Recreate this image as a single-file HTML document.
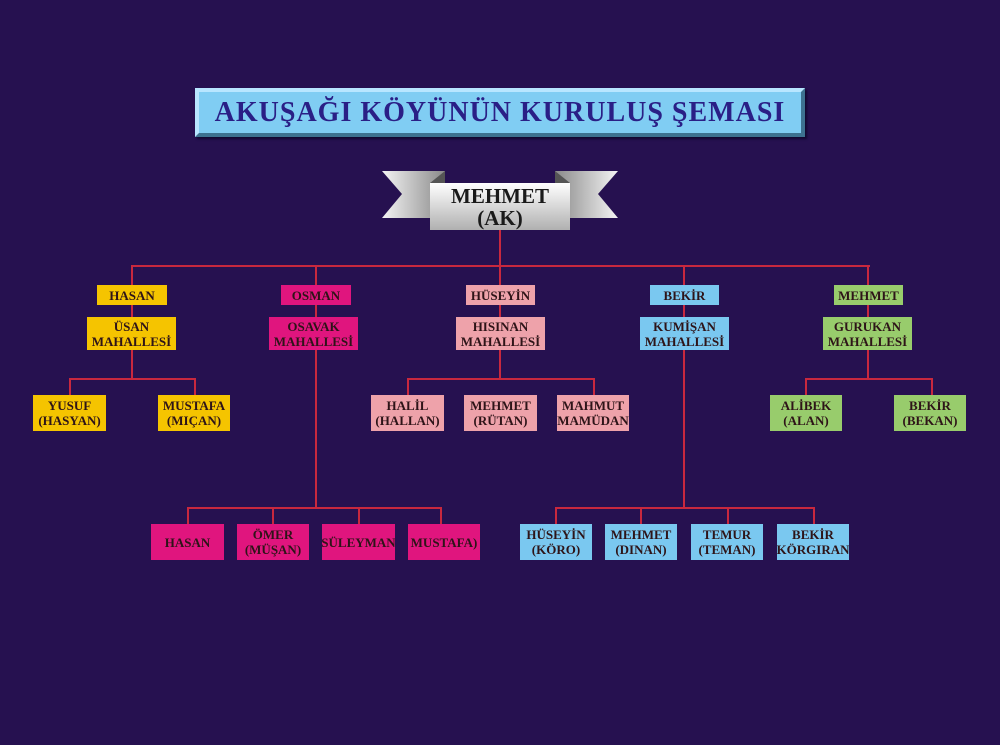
<!DOCTYPE html>
<html><head><meta charset="utf-8">
<style>
html,body{margin:0;padding:0}
body{width:1000px;height:745px;background:#261150;position:relative;overflow:hidden;font-family:"Liberation Serif","DejaVu Serif",serif}
.b{position:absolute;display:flex;align-items:center;justify-content:center;text-align:center;font-weight:bold;font-size:13px;line-height:15px;color:#2e1418;white-space:nowrap;overflow:hidden}
.y{background:#f5c400}.m{background:#e0157e}.p{background:#eea2aa}.c{background:#7ac8f0}.g{background:#98cc6c}
.h{position:absolute;height:2px;background:#c8283e}
.v{position:absolute;width:2px;background:#c8283e}
</style></head><body>
<div style="position:absolute;left:195px;top:88px;width:610px;height:49px;background:#80cdf3;box-sizing:border-box;border:4px solid;border-color:#b8e6ff #3d7290 #3d7290 #b8e6ff;box-shadow:2px 2px 2px #110830;display:flex;align-items:center;justify-content:center;font-weight:bold;font-size:28px;white-space:nowrap;color:#2a1f86;letter-spacing:1px">AKUŞAĞI KÖYÜNÜN KURULUŞ ŞEMASI</div>
<svg style="position:absolute;left:0;top:0" width="1000" height="745">
<defs><linearGradient id="gl" x1="0" x2="1"><stop offset="0" stop-color="#f4f4f4"/><stop offset="1" stop-color="#8a8a8a"/></linearGradient>
<linearGradient id="gr" x1="1" x2="0"><stop offset="0" stop-color="#f4f4f4"/><stop offset="1" stop-color="#8a8a8a"/></linearGradient>
<linearGradient id="gc" x1="0" y1="0" x2="0" y2="1"><stop offset="0" stop-color="#ffffff"/><stop offset="1" stop-color="#b0b0b0"/></linearGradient></defs>
<polygon points="382,171 445,171 445,218 382,218 402,194" fill="url(#gl)"/>
<polygon points="618,171 555,171 555,218 618,218 598,194" fill="url(#gr)"/>
<polygon points="430,183 445,171 445,183" fill="#555"/>
<polygon points="570,183 555,171 555,183" fill="#555"/>
<rect x="430" y="183" width="140" height="47" fill="url(#gc)"/>
</svg>
<div class="b" style="left:430px;top:183px;width:140px;height:47px;font-size:21px;line-height:22px;color:#1a1a1a">MEHMET<br>(AK)</div>

<div class="v" style="left:499px;top:230px;height:37px"></div>
<div class="h" style="left:131px;top:265px;width:739px"></div>
<div class="v" style="left:131px;top:265px;height:113px"></div>
<div class="v" style="left:315px;top:265px;height:243px"></div>
<div class="v" style="left:499px;top:265px;height:113px"></div>
<div class="v" style="left:683px;top:265px;height:243px"></div>
<div class="v" style="left:867px;top:265px;height:113px"></div>

<div class="h" style="left:69px;top:378px;width:127px"></div>
<div class="v" style="left:69px;top:378px;height:18px"></div>
<div class="v" style="left:194px;top:378px;height:18px"></div>
<div class="h" style="left:407px;top:378px;width:188px"></div>
<div class="v" style="left:407px;top:378px;height:18px"></div>
<div class="v" style="left:593px;top:378px;height:18px"></div>
<div class="h" style="left:805px;top:378px;width:128px"></div>
<div class="v" style="left:805px;top:378px;height:18px"></div>
<div class="v" style="left:931px;top:378px;height:18px"></div>
<div class="h" style="left:187px;top:507px;width:255px"></div>
<div class="v" style="left:187px;top:507px;height:18px"></div>
<div class="v" style="left:272px;top:507px;height:18px"></div>
<div class="v" style="left:358px;top:507px;height:18px"></div>
<div class="v" style="left:440px;top:507px;height:18px"></div>
<div class="h" style="left:555px;top:507px;width:260px"></div>
<div class="v" style="left:555px;top:507px;height:18px"></div>
<div class="v" style="left:640px;top:507px;height:18px"></div>
<div class="v" style="left:727px;top:507px;height:18px"></div>
<div class="v" style="left:813px;top:507px;height:18px"></div>

<div class="b y" style="left:97px;top:285px;width:70px;height:20px">HASAN</div>
<div class="b m" style="left:281px;top:285px;width:70px;height:20px">OSMAN</div>
<div class="b p" style="left:466px;top:285px;width:69px;height:20px">HÜSEYİN</div>
<div class="b c" style="left:650px;top:285px;width:69px;height:20px">BEKİR</div>
<div class="b g" style="left:834px;top:285px;width:69px;height:20px">MEHMET</div>

<div class="b y" style="left:87px;top:317px;width:89px;height:33px">ÜSAN<br>MAHALLESİ</div>
<div class="b m" style="left:269px;top:317px;width:89px;height:33px">OSAVAK<br>MAHALLESİ</div>
<div class="b p" style="left:456px;top:317px;width:89px;height:33px">HISINAN<br>MAHALLESİ</div>
<div class="b c" style="left:640px;top:317px;width:89px;height:33px">KUMİŞAN<br>MAHALLESİ</div>
<div class="b g" style="left:823px;top:317px;width:89px;height:33px">GURUKAN<br>MAHALLESİ</div>

<div class="b y" style="left:33px;top:395px;width:73px;height:36px">YUSUF<br>(HASYAN)</div>
<div class="b y" style="left:158px;top:395px;width:72px;height:36px">MUSTAFA<br>(MIÇAN)</div>
<div class="b p" style="left:371px;top:395px;width:73px;height:36px">HALİL<br>(HALLAN)</div>
<div class="b p" style="left:464px;top:395px;width:73px;height:36px">MEHMET<br>(RÜTAN)</div>
<div class="b p" style="left:557px;top:395px;width:72px;height:36px">MAHMUT<br>(MAMÜDAN)</div>
<div class="b g" style="left:770px;top:395px;width:72px;height:36px">ALİBEK<br>(ALAN)</div>
<div class="b g" style="left:894px;top:395px;width:72px;height:36px">BEKİR<br>(BEKAN)</div>

<div class="b m" style="left:151px;top:524px;width:73px;height:36px">HASAN</div>
<div class="b m" style="left:237px;top:524px;width:72px;height:36px">ÖMER<br>(MÜŞAN)</div>
<div class="b m" style="left:322px;top:524px;width:73px;height:36px">SÜLEYMAN</div>
<div class="b m" style="left:408px;top:524px;width:72px;height:36px">MUSTAFA)</div>
<div class="b c" style="left:520px;top:524px;width:72px;height:36px">HÜSEYİN<br>(KÖRO)</div>
<div class="b c" style="left:605px;top:524px;width:72px;height:36px">MEHMET<br>(DINAN)</div>
<div class="b c" style="left:691px;top:524px;width:72px;height:36px">TEMUR<br>(TEMAN)</div>
<div class="b c" style="left:777px;top:524px;width:72px;height:36px">BEKİR<br>(KÖRGIRAN)</div>
</body></html>
